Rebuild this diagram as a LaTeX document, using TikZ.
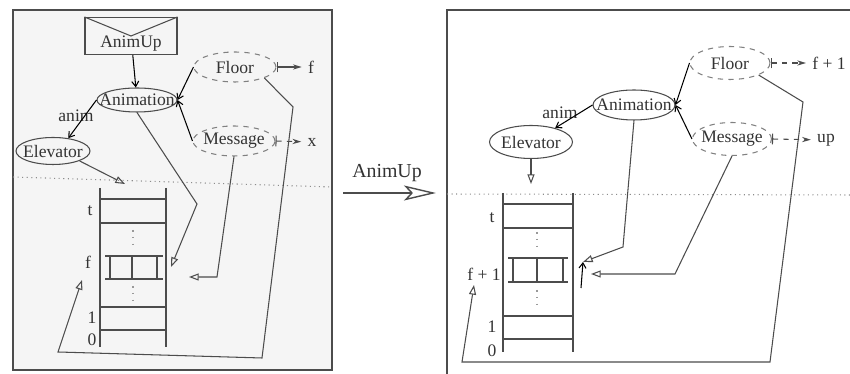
\documentclass[tikz,border=0pt]{standalone}
\usepackage{fontspec}
\setmainfont{Liberation Serif}
\usetikzlibrary{positioning,arrows.meta,shapes.geometric}

\newcommand{\tight}[1]{\makebox[0pt]{#1}}

\begin{document}
\begin{tikzpicture}[
        x=0.02cm, y=-0.02cm,
        line width=0.6pt,
        >={Straight Barb[length=3pt,width=4pt]},
        every node/.style={text=black!80},
        state/.style={draw=black!70, ellipse, inner sep=0pt, minimum width=1.64cm, minimum height=0.6cm},
        ghost/.style={state, draw=black!50, dashed},
        env/.style={draw=black!70, minimum width=1.84cm, minimum height=0.74cm},
        ptr/.style={draw=black!70, -{Triangle[open,length=5.5pt,width=4pt]}},
        val/.style={draw=black!70, {Bar[width=6pt]}-{Stealth[length=5pt,width=3pt]}},
        lvl/.style={inner sep=1pt},
        dots/.style={draw=black!40, line width=0.9pt, dash pattern=on 0.9pt off 3pt}
    ]
        \useasboundingbox (0,0) rectangle (850,374);

        % frames
        \draw[black!70, fill=gray!8] (13,10) rectangle (332,370);
        \draw[black!70] (850,10) -- (447,10) -- (447,374);
        \draw[black!45, dotted] (13,177) -- (332,187);
        \draw[black!45, dotted] (447,194) -- (850,195);

        % ---- before ----
        \node[env] (upL) at (131,36) {};
        \draw[black!70] (upL.north west) -- (upL.center) -- (upL.north east);
        \node (upLtxt) at (131,44) {AnimUp};

        \node[state, minimum width=1.6cm, minimum height=0.48cm] (animL) at (137,100) {\tight{Animation}};
        \node[ghost] (floorL) at (235,67) {\tight{Floor}};
        \node[ghost] (msgL)   at (234,141) {\tight{Message}};
        \node[state, minimum width=1.48cm, minimum height=0.54cm] (elevL) at (53,151) {\tight{Elevator}};
        \node (animtxtL) at (76,116) {anim};
        \node (fvalL) at (311,67) {f};
        \node (xvalL) at (312,142) {x};

        \draw[->] (upL) -- (animL);
        \draw[->] (animL.west) -- (elevL.40);
        \draw[->] (floorL.west) -- (animL.east);
        \draw[->] (msgL.west) -- (animL.east);
        \draw[val] (floorL.east) -- (fvalL);
        \draw[val, dashed] (msgL.east) -- (xvalL);

        % shaft
        \draw[black!70] (100,188) -- (100,347);
        \draw[black!70] (166,188) -- (166,347);
        \foreach \y in {199,223,307,330}
            \draw[black!70] (100,\y) -- (166,\y);
        \draw[black!70, line width=1pt] (105,256) -- (163,256) (105,279) -- (163,279);
        \foreach \x in {110,132,157}
            \draw[black!70, line width=1pt] (\x,256) -- (\x,279);
        \draw[dots] (133,230) -- (133,250);
        \draw[dots] (133,286) -- (133,302);
        \node[lvl] (tL)    at (90,211) {t};
        \node[lvl] (fL)    at (88,262) {f};
        \node[lvl] (oneL)  at (92,318) {1};
        \node[lvl] (zeroL) at (92,340) {0};

        \coordinate (elevtipL) at (125,184);
        \coordinate (cabanL)   at (171,267);
        \coordinate (cabmsgL)  at (189,277);
        \coordinate (fptrL)    at (82,280);
        \draw[ptr] (elevL.south east) -- (elevtipL);
        \draw[ptr] (animL.south) -- (197,204) -- (cabanL);
        \draw[ptr] (msgL.south) -- (217,277) -- (cabmsgL);
        \draw[ptr] (floorL.south east) -- (293,107) -- (262,358) -- (58,352) -- (fptrL);

        % ---- transition ----
        \node (trans) at (387,173) {\fontsize{11.3}{13}\selectfont AnimUp};
        \coordinate (transA) at (343,193);
        \coordinate (transB) at (436,193);
        \draw[black!70, line width=0.8pt, -{Stealth[open,length=0.64cm,width=0.3cm,inset=0.14cm]}] (transA) -- (transB);

        % ---- after ----
        \node[state] (animR)  at (634,105) {\tight{Animation}};
        \node[ghost, minimum width=1.6cm, minimum height=0.66cm] (floorR) at (730,63) {\tight{Floor}};
        \node[ghost, minimum width=1.58cm, minimum height=0.66cm] (msgR)   at (732,139) {\tight{Message}};
        \node[state, minimum width=1.66cm, minimum height=0.66cm] (elevR)  at (531,142) {\tight{Elevator}};
        \node (animtxtR) at (560,113) {anim};
        \node (fvalR)  at (829,63) {f + 1};
        \node (upvalR) at (826,140) {up};

        \draw[->] (animR.west) -- (elevR.30);
        \draw[->] (floorR.west) -- (animR.east);
        \draw[->] (msgR.west) -- (animR.east);
        \draw[val, dashed] (floorR.east) -- (fvalR);
        \draw[val, dashed] (msgR.east) -- (upvalR);

        % shaft
        \draw[black!70] (503,193) -- (503,352);
        \draw[black!70] (573,193) -- (573,352);
        \foreach \y in {204,228,316,339}
            \draw[black!70] (503,\y) -- (573,\y);
        \draw[black!70, line width=1pt] (508,258) -- (568,258) (508,282) -- (568,282);
        \foreach \x in {513,537,563}
            \draw[black!70, line width=1pt] (\x,258) -- (\x,282);
        \draw[dots] (537,232) -- (537,252);
        \draw[dots] (537,290) -- (537,308);
        \node[lvl] (tR)    at (492,218) {t};
        \node[lvl] (fR)    at (484,274) {f + 1};
        \node[lvl] (oneR)  at (492,327) {1};
        \node[lvl] (zeroR) at (492,351) {0};

        \coordinate (elevtipR) at (531,184);
        \coordinate (cabanR)   at (583,262);
        \coordinate (upfootR)  at (581,288);
        \coordinate (cabmsgR)  at (591,274);
        \coordinate (fptrR)    at (474,285);
        \draw[ptr] (elevR.south) -- (elevtipR);
        \draw[ptr] (animR.south) -- (623,247) -- (cabanR);
        \draw[->] (upfootR) -- (cabanR);
        \draw[ptr] (msgR.south) -- (675,274) -- (cabmsgR);
        \draw[ptr] (floorR.south east) -- (803,102) -- (770,362) -- (462,362) -- (fptrR);
    \end{tikzpicture}
\end{document}
